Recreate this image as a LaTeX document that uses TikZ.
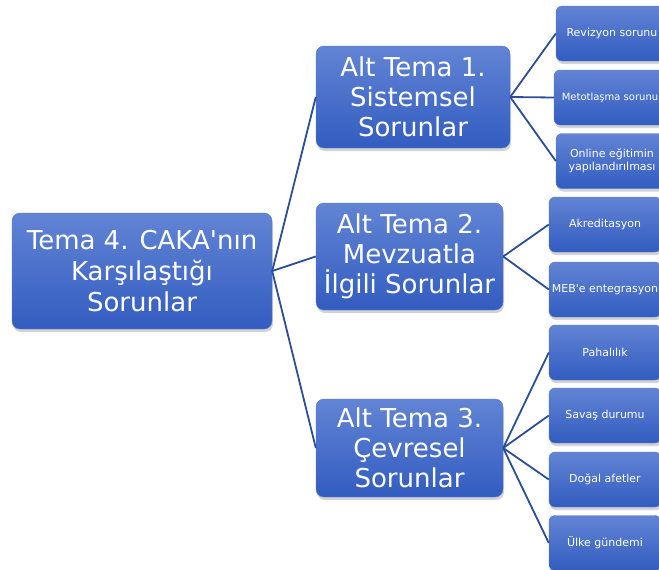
\documentclass[tikz,border=0pt]{standalone}
\usepackage{fontspec}
\setmainfont{DejaVu Sans}[Ligatures=TeXOff]
\usetikzlibrary{shadows}

\definecolor{kutuUst}{RGB}{98,132,212}
\definecolor{kutuAlt}{RGB}{50,92,192}
\definecolor{kutuKenar}{RGB}{82,118,204}
\definecolor{cizgi}{RGB}{44,78,150}

\tikzset{
    kutu/.style={rectangle, rounded corners=8pt, draw=kutuKenar, thin,
        top color=kutuUst, bottom color=kutuAlt, text=white, align=center,
        inner sep=2pt,
        drop shadow={shadow xshift=1pt, shadow yshift=-3pt, opacity=.35}},
    anaKutu/.style={kutu, minimum width=260pt, minimum height=116pt,
        font=\fontsize{26}{31}\selectfont},
    altKutu/.style={kutu, minimum width=187pt,
        font=\fontsize{26}{30}\selectfont},
    yaprak/.style={kutu, rounded corners=6pt, minimum width=112pt,
        minimum height=55pt, font=\fontsize{11}{13}\selectfont}
}

\begin{document}
\begin{tikzpicture}[x=1pt, y=-1pt]

    \useasboundingbox (0,0) rectangle (659,570);
    \clip (0,0) rectangle (659,570);

    % ana tema
    \node[anaKutu] (tema) at (142,271) {Tema 4. CAKA'nın\\Karşılaştığı\\Sorunlar};

    % alt temalar
    \node[altKutu, minimum width=194pt, minimum height=102pt] (alt1) at (413,97)
        {Alt Tema 1.\\Sistemsel\\Sorunlar};
    \node[altKutu, minimum height=107pt] (alt2) at (409.5,256.5)
        {Alt Tema 2.\\Mevzuatla\\İlgili Sorunlar};
    \node[altKutu, minimum height=98pt] (alt3) at (409.5,448)
        {Alt Tema 3.\\Çevresel\\Sorunlar};

    % sistemsel sorunlar
    \node[yaprak] (revizyon) at (612,33.5) {Revizyon sorunu};
    \node[yaprak, font=\fontsize{10}{12}\selectfont] (metot) at (610,97.5)
        {Metotlaşma sorunu};
    \node[yaprak] (online) at (612,161) {Online eğitimin\\yapılandırılması};

    % mevzuat
    \node[yaprak] (akredit) at (605,224.5) {Akreditasyon};
    \node[yaprak] (meb) at (605,289.5) {MEB'e entegrasyon};

    % cevresel sorunlar
    \node[yaprak] (pahali) at (605,352.5) {Pahalılık};
    \node[yaprak] (savas) at (605,415.5) {Savaş durumu};
    \node[yaprak] (afet) at (605,479.5) {Doğal afetler};
    \node[yaprak] (gundem) at (605,543) {Ülke gündemi};

    % baglantilar
    \foreach \a in {alt1,alt2,alt3}
        \draw[draw=cizgi, line width=1.8pt] (tema.east) -- (\a.west);
    \foreach \y in {revizyon,metot,online}
        \draw[draw=cizgi, line width=1.8pt] (alt1.east) -- (\y.west);
    \foreach \y in {akredit,meb}
        \draw[draw=cizgi, line width=1.8pt] (alt2.east) -- (\y.west);
    \foreach \y in {pahali,savas,afet,gundem}
        \draw[draw=cizgi, line width=1.8pt] (alt3.east) -- (\y.west);

\end{tikzpicture}
\end{document}
